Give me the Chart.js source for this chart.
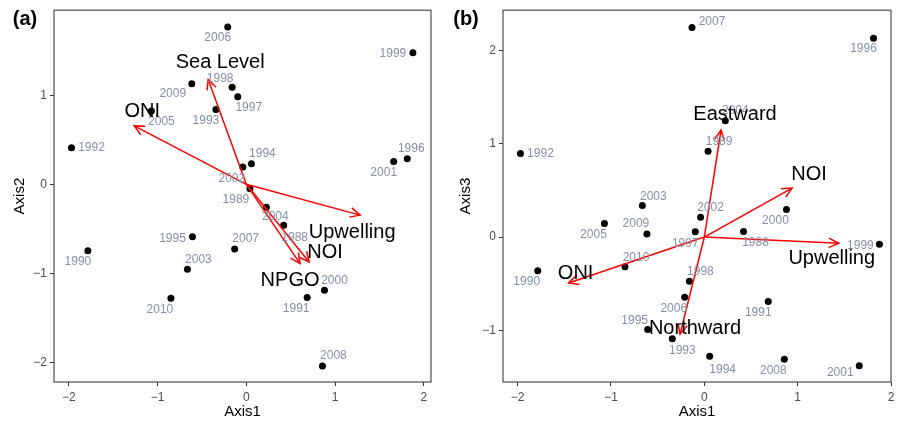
<!DOCTYPE html>
<html>
<head>
<meta charset="utf-8">
<title>Axis1 vs Axis2 / Axis3</title>
<script src="https://cdn.jsdelivr.net/npm/chart.js@4.4.1/dist/chart.umd.min.js"></script>
<style>
  body { margin: 0; background: #fff; }
  #wrap { position: relative; width: 901px; height: 427px; }
  canvas { position: absolute; top: 0; }
  #panelA { left: 0; }
  #panelB { left: 445px; }
</style>
</head>
<body>
<div id="wrap">
  <canvas id="panelA" width="445" height="427"></canvas>
  <canvas id="panelB" width="456" height="427"></canvas>
</div>
<script>
// scores des années
const years = [1988, 1989, 1990, 1991, 1992, 1993, 1994, 1995, 1996, 1997, 1998, 1999,
               2000, 2001, 2002, 2003, 2004, 2005, 2006, 2007, 2008, 2009, 2010];
const axis1 = [0.42, 0.04, -1.785, 0.685, -1.97, -0.343, 0.057, -0.607, 1.813, -0.097, -0.16, 1.876,
               0.88, 1.66, -0.04, -0.664, 0.225, -1.07, -0.21, -0.132, 0.857, -0.615, -0.85];
const axis2 = [-0.46, -0.05, -0.745, -1.27, 0.41, 0.84, 0.23, -0.59, 0.287, 0.983, 1.09, 1.478,
               -1.19, 0.257, 0.193, -0.953, -0.257, 0.823, 1.765, -0.726, -2.04, 1.128, -1.28];
const axis3 = [0.06, 0.92, -0.36, -0.69, 0.895, -1.09, -1.277, -0.99, 2.13, 0.056, -0.475, -0.078,
               0.295, -1.38, 0.213, 0.337, 1.245, 0.146, -0.645, 2.245, -1.309, 0.032, -0.319];

// vecteurs des variables
const varsA = ['Sea Level', 'ONI', 'Upwelling', 'NOI', 'NPGO'];
const varsA1 = [-0.43, -1.263, 1.282, 0.707, 0.605];
const varsA2 = [1.177, 0.656, -0.346, -0.872, -0.89];
const varsB = ['Eastward', 'NOI', 'Upwelling', 'ONI', 'Northward'];
const varsB1 = [0.179, 0.94, 1.44, -1.454, -0.26];
const varsB3 = [1.146, 0.524, -0.067, -0.493, -1.04];

const ticksAxis1 = [-2, -1, 0, 1, 2];
const ticksAxis2 = [-2, -1, 0, 1];
const ticksAxis3 = [-1, 0, 1, 2];

// placement des étiquettes (pixels, relatif au point)
const yearOffA = {
    1988: [11, 12], 1989: [-14, 11], 1990: [-10, 11], 1991: [-11, 11], 1992: [20, 0],
    1993: [-10, 11], 1994: [11, -10], 1995: [-20, 2], 1996: [4, -10], 1997: [11, 11],
    1998: [-12, -9], 1999: [-20, 1], 2000: [10, -10], 2001: [-10, 11], 2002: [-11, 12],
    2003: [11, -9], 2004: [9, 10], 2005: [10, 11], 2006: [-10, 11], 2007: [11, -10],
    2008: [11, -10], 2009: [-19, 10], 2010: [-11, 11]
};
const yearOffB = {
    1988: [12, 11], 1989: [11, -9], 1990: [-11, 11], 1991: [-10, 11], 1992: [20, 0],
    1993: [10, 12], 1994: [13, 13], 1995: [-13, -9], 1996: [-10, 10], 1997: [-10, 12],
    1998: [11, -10], 1999: [-19, 1], 2000: [-11, 11], 2001: [-19, 7], 2002: [10, -9],
    2003: [11, -9], 2004: [10, -10], 2005: [-11, 11], 2006: [-11, 11], 2007: [20, -6],
    2008: [-11, 11], 2009: [-11, -10], 2010: [11, -9]
};
const varOffA = [[12, -17], [8, -14], [-8, 17], [16, -9], [-10, 17]];
const varOffB = [[14, -16], [17, -14], [-7, 15], [7, -10], [15, -6]];

const FONT = "'Liberation Sans', Arial, sans-serif";

const biplotPlugin = {
    id: 'biplot',
    afterDatasetsDraw(chart) {
        const o = chart.options.plugins.biplot;
        const ctx = chart.ctx;
        const xs = chart.scales.x, ys = chart.scales.y;
        const ca = chart.chartArea;
        ctx.save();

        // cadre du panneau
        ctx.strokeStyle = '#4d4d4d';
        ctx.lineWidth = 1.2;
        ctx.strokeRect(ca.left, ca.top, ca.right - ca.left, ca.bottom - ca.top);

        // pointes de flèches
        const x0 = xs.getPixelForValue(0), y0 = ys.getPixelForValue(0);
        ctx.strokeStyle = '#ff0000';
        ctx.lineWidth = 1.5;
        o.vx.forEach((vx, i) => {
            const px = xs.getPixelForValue(vx), py = ys.getPixelForValue(o.vy[i]);
            const ang = Math.atan2(py - y0, px - x0);
            const len = 11, spread = Math.PI / 7;
            ctx.beginPath();
            ctx.moveTo(px - len * Math.cos(ang - spread), py - len * Math.sin(ang - spread));
            ctx.lineTo(px, py);
            ctx.lineTo(px - len * Math.cos(ang + spread), py - len * Math.sin(ang + spread));
            ctx.stroke();
        });

        // étiquettes des années
        ctx.font = `12px ${FONT}`;
        ctx.fillStyle = '#8391a5';
        ctx.textAlign = 'center';
        ctx.textBaseline = 'middle';
        years.forEach((yr, i) => {
            const off = o.yearOff[yr];
            ctx.fillText(String(yr), xs.getPixelForValue(axis1[i]) + off[0], ys.getPixelForValue(o.yv[i]) + off[1]);
        });

        // étiquettes des variables
        ctx.font = `20px ${FONT}`;
        ctx.fillStyle = '#000';
        o.names.forEach((n, i) => {
            const off = o.varOff[i];
            ctx.fillText(n, xs.getPixelForValue(o.vx[i]) + off[0], ys.getPixelForValue(o.vy[i]) + off[1]);
        });

        // lettre du panneau
        ctx.font = `bold 20px ${FONT}`;
        ctx.fillText(o.tag, o.tagX, 19);
        ctx.restore();
    }
};

function minusLabel(v) {
    return v < 0 ? '\u2212' + Math.abs(v) : String(v);
}

function makePanel(id, o) {
    const pts = years.map((yr, i) => ({ x: axis1[i], y: o.yv[i] }));
    const arrows = o.names.map((n, i) => ({
        type: 'line',
        label: n,
        data: [{ x: 0, y: 0 }, { x: o.vx[i], y: o.vy[i] }],
        borderColor: '#ff0000',
        borderWidth: 1.5,
        pointRadius: 0,
        fill: false,
        order: 0
    }));

    new Chart(document.getElementById(id), {
        type: 'scatter',
        data: {
            datasets: [{
                label: 'années',
                data: pts,
                backgroundColor: '#000',
                borderWidth: 0,
                pointRadius: 3.5,
                order: 1
            }, ...arrows]
        },
        options: {
            responsive: false,
            animation: false,
            events: [],
            layout: { padding: { top: 8, right: o.padRight, left: 0, bottom: 0 } },
            plugins: {
                legend: { display: false },
                tooltip: { enabled: false },
                biplot: o
            },
            scales: {
                x: {
                    type: 'linear',
                    min: o.xMin, max: o.xMax,
                    afterBuildTicks: s => { s.ticks = ticksAxis1.map(v => ({ value: v })); },
                    afterFit: s => { s.height = 45; },
                    grid: { drawOnChartArea: false, drawTicks: true, tickLength: 4, color: '#333', lineWidth: 1 },
                    border: { display: false },
                    ticks: { color: '#4d4d4d', font: { size: 12, family: FONT }, padding: 4, callback: minusLabel },
                    title: { display: true, text: 'Axis1', color: '#000', font: { size: 15, family: FONT }, padding: { top: 0, bottom: 6 } }
                },
                y: {
                    type: 'linear',
                    min: o.yMin, max: o.yMax,
                    afterBuildTicks: s => { s.ticks = o.yTicks.map(v => ({ value: v })); },
                    afterFit: s => { s.width = o.yWidth; },
                    grid: { drawOnChartArea: false, drawTicks: true, tickLength: 4, color: '#333', lineWidth: 1 },
                    border: { display: false },
                    ticks: { color: '#4d4d4d', font: { size: 12, family: FONT }, padding: 3, callback: minusLabel },
                    title: { display: true, text: o.yTitle, color: '#000', font: { size: 15, family: FONT }, padding: { top: o.yTitlePad, bottom: 0 } }
                }
            }
        },
        plugins: [biplotPlugin]
    });
}

makePanel('panelA', {
    tag: '(a)', tagX: 25,
    yv: axis2, yTitle: 'Axis2', yTicks: ticksAxis2,
    names: varsA, vx: varsA1, vy: varsA2,
    yearOff: yearOffA, varOff: varOffA,
    xMin: -2.167, xMax: 2.08, yMin: -2.22, yMax: 1.955,
    yWidth: 54, yTitlePad: 11, padRight: 14
});

makePanel('panelB', {
    tag: '(b)', tagX: 21,
    yv: axis3, yTitle: 'Axis3', yTicks: ticksAxis3,
    names: varsB, vx: varsB1, vy: varsB3,
    yearOff: yearOffB, varOff: varOffB,
    xMin: -2.157, xMax: 2.0, yMin: -1.553, yMax: 2.43,
    yWidth: 58, yTitlePad: 12, padRight: 10
});
</script>
</body>
</html>
